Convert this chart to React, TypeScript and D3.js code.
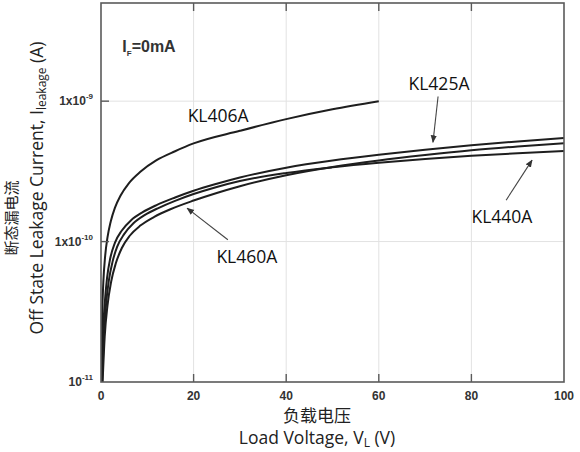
import React from "react";
import * as d3 from "d3";

// ---- data (Load Voltage V, Leakage current A) ----
const kl406V = [0.07, 0.1, 0.25, 0.5, 0.9, 1.4, 2.1, 3, 4.2, 6, 8.5, 12, 16, 20, 30, 40, 50, 60];
const kl406I = [1.0e-11, 1.35e-11, 2.9e-11, 5.1e-11, 7.9e-11, 1.07e-10, 1.39e-10, 1.74e-10, 2.12e-10, 2.6e-10, 3.14e-10, 3.8e-10, 4.4e-10, 5.0e-10, 6.15e-10, 7.45e-10, 8.75e-10, 1.0e-9];

const kl425V = [0.15, 0.4, 0.8, 1.3, 2, 3, 4.5, 6.5, 9, 12, 16, 20, 25, 30, 40, 50, 60, 70, 80, 90, 100];
const kl425I = [1.0e-11, 2.1e-11, 3.6e-11, 5.5e-11, 7.6e-11, 9.8e-11, 1.2e-10, 1.42e-10, 1.62e-10, 1.82e-10, 2.06e-10, 2.3e-10, 2.58e-10, 2.86e-10, 3.36e-10, 3.78e-10, 4.15e-10, 4.5e-10, 4.85e-10, 5.17e-10, 5.46e-10];

const kl440V = [0.25, 0.6, 1.1, 1.7, 2.5, 3.5, 5, 7, 9.5, 12.5, 16, 20, 25, 30, 40, 50, 60, 70, 80, 90, 100];
const kl440I = [1.0e-11, 2.1e-11, 3.6e-11, 5.3e-11, 7.2e-11, 9.2e-11, 1.13e-10, 1.35e-10, 1.55e-10, 1.74e-10, 1.95e-10, 2.18e-10, 2.45e-10, 2.7e-10, 3.08e-10, 3.38e-10, 3.64e-10, 3.87e-10, 4.08e-10, 4.26e-10, 4.41e-10];

const kl460V = [0.35, 0.8, 1.4, 2.2, 3.2, 4.5, 6.2, 8.5, 11.5, 15, 20, 25, 30, 40, 50, 60, 70, 80, 90, 100];
const kl460I = [1.0e-11, 2.1e-11, 3.5e-11, 5.2e-11, 7.0e-11, 9.0e-11, 1.1e-10, 1.3e-10, 1.5e-10, 1.7e-10, 1.96e-10, 2.22e-10, 2.48e-10, 2.97e-10, 3.4e-10, 3.78e-10, 4.13e-10, 4.47e-10, 4.76e-10, 5.02e-10];

const xTicks = [0, 20, 40, 60, 80, 100];
const yTicks = [1e-11, 1e-10, 1e-9];
const yTickBase = ["10", "1x10", "1x10"];
const yTickExp = ["-11", "-10", "-9"];

// labels: [V, I]
const labelNames = ["KL406A", "KL425A", "KL440A", "KL460A"];
const labelV = [25.3, 73, 86.6, 31.5];
const labelI = [8.0e-10, 1.34e-9, 1.52e-10, 7.9e-11];
// arrows: from -> to
const arrowFromV = [72.8, 87.5, 27.4];
const arrowFromI = [1.08e-9, 1.97e-10, 1.03e-10];
const arrowToV = [71.7, 93.1, 18.6];
const arrowToI = [5.1e-10, 3.8e-10, 1.73e-10];

const W = 580, H = 452;
const M = { left: 101, right: 16, top: 3, bottom: 70 };

export default function App() {
  const x = d3.scaleLinear().domain([0, 100]).range([M.left, W - M.right]);
  const y = d3.scaleLog().domain([1e-11, 5e-9]).range([H - M.bottom, M.top]);
  const x0 = x(0), x1 = x(100), y0 = y(1e-11), y1 = y(5e-9);

  const line = d3
    .line<[number, number]>()
    .x((d) => x(d[0]))
    .y((d) => y(d[1]))
    .curve(d3.curveMonotoneX);

  const series = [
    [kl406V, kl406I],
    [kl425V, kl425I],
    [kl440V, kl440I],
    [kl460V, kl460I],
  ].map(([vs, is]) => vs.map((v, i) => [v, is[i]] as [number, number]));

  const tickFont = "'Liberation Sans', Arial, sans-serif";
  const labelFont = "'Open Sans', 'Noto Sans', sans-serif";
  const cjkFont = "'Noto Sans CJK SC', sans-serif";

  return (
    <svg width={W} height={H} style={{ position: "absolute", left: 0, top: 0, background: "#fff" }}>
      <defs>
        <clipPath id="plot">
          <rect x={x0} y={y1} width={x1 - x0} height={y0 - y1} />
        </clipPath>
        <marker id="arr" viewBox="0 0 10 10" refX="9" refY="5" markerWidth="7" markerHeight="7" orient="auto">
          <path d="M0,1 L10,5 L0,9 z" fill="#333" />
        </marker>
      </defs>
      <rect width={W} height={H} fill="#fff" />
      {/* grid */}
      {xTicks.slice(1, -1).map((t) => (
        <line key={"gx" + t} x1={x(t)} x2={x(t)} y1={y1} y2={y0} stroke="#e2e2e2" strokeWidth={1} />
      ))}
      {yTicks.slice(1).map((t) => (
        <line key={"gy" + t} x1={x0} x2={x1} y1={y(t)} y2={y(t)} stroke="#e2e2e2" strokeWidth={1} />
      ))}
      {/* curves */}
      <g clipPath="url(#plot)">
        {series.map((s, i) => (
          <path key={i} d={line(s) || ""} fill="none" stroke="#1e1e1e" strokeWidth={2} />
        ))}
      </g>
      {/* frame */}
      <rect x={x0} y={y1} width={x1 - x0} height={y0 - y1} fill="none" stroke="#5a5a5a" strokeWidth={1.6} />
      {/* ticks */}
      {xTicks.slice(1, -1).map((t) => (
        <g key={"tx" + t}>
          <line x1={x(t)} x2={x(t)} y1={y0} y2={y0 - 8} stroke="#5a5a5a" strokeWidth={1.4} />
          <line x1={x(t)} x2={x(t)} y1={y1} y2={y1 + 8} stroke="#5a5a5a" strokeWidth={1.4} />
        </g>
      ))}
      {yTicks.slice(1).map((t) => (
        <line key={"ty" + t} x1={x0} x2={x0 + 8} y1={y(t)} y2={y(t)} stroke="#5a5a5a" strokeWidth={1.4} />
      ))}
      {/* x tick labels */}
      {xTicks.map((t) => (
        <text key={"lx" + t} x={x(t)} y={y0 + 18} textAnchor="middle" fontFamily={tickFont} fontWeight="bold" fontSize={12} fill="#333">
          {t}
        </text>
      ))}
      {/* y tick labels */}
      {yTicks.map((t, i) => (
        <text key={"ly" + i} x={x0 - 8} y={y(t) + 4} textAnchor="end" fontFamily={tickFont} fontWeight="bold" fontSize={12} fill="#333">
          {yTickBase[i]}
          <tspan fontSize={8} dy={-6}>{yTickExp[i]}</tspan>
        </text>
      ))}
      {/* I_F label */}
      <text x={x(4.6)} y={y(2.42e-9) + 5} fontFamily={tickFont} fontWeight="bold" fontSize={16} fill="#333">
        I<tspan fontSize={8} dy={4}>F</tspan>
        <tspan dy={-4}>=0mA</tspan>
      </text>
      {/* curve labels */}
      {labelNames.map((n, i) => (
        <text key={n} x={x(labelV[i])} y={y(labelI[i])} textAnchor="middle" dominantBaseline="central" fontFamily={labelFont} fontSize={17.5} fill="#111">
          {n}
        </text>
      ))}
      {arrowFromV.map((v, i) => (
        <line key={"ar" + i} x1={x(v)} y1={y(arrowFromI[i])} x2={x(arrowToV[i])} y2={y(arrowToI[i])} stroke="#444" strokeWidth={1.1} markerEnd="url(#arr)" />
      ))}
      {/* x axis title */}
      <text x={317} y={422} textAnchor="middle" fontFamily={cjkFont} fontSize={17} fill="#222">负载电压</text>
      <text x={317} y={444} textAnchor="middle" fontFamily={labelFont} fontSize={17.5} fill="#222">
        Load Voltage, V<tspan fontSize={12} dy={3}>L</tspan>
        <tspan dy={-3}> (V)</tspan>
      </text>
      {/* y axis title */}
      <text transform="translate(17,218) rotate(-90)" textAnchor="middle" fontFamily={cjkFont} fontSize={15} fill="#222">断态漏电流</text>
      <text transform="translate(43,188) rotate(-90)" textAnchor="middle" fontFamily={labelFont} fontSize={17.5} fill="#222">
        Off State Leakage Current, I<tspan fontSize={12} dy={3}>leakage</tspan>
        <tspan dy={-3}> (A)</tspan>
      </text>
    </svg>
  );
}
